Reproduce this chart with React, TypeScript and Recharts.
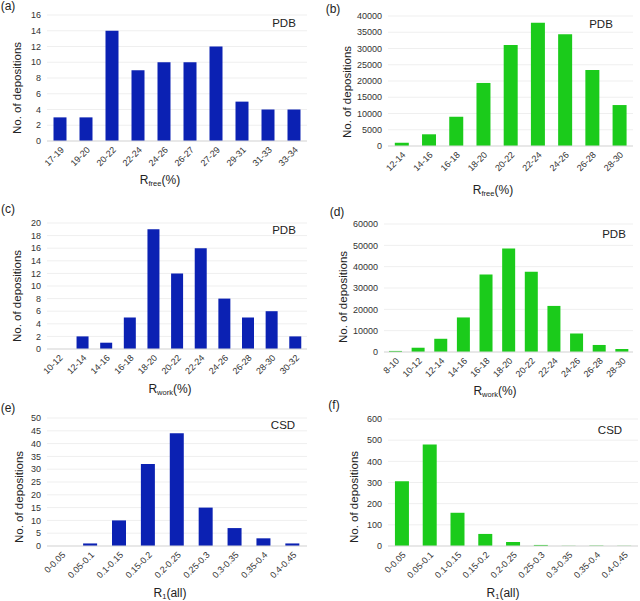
import { BarChart, Bar, XAxis, YAxis, CartesianGrid } from 'recharts';

// (a) PDB Rfree, small set
const rfreeBinsA = ['17-19', '19-20', '20-22', '22-24', '24-26', '26-27', '27-29', '29-31', '31-33', '33-34'];
const rfreeCountsA = [3, 3, 14, 9, 10, 10, 12, 5, 4, 4];
const ticksA = [0, 2, 4, 6, 8, 10, 12, 14, 16];

// (b) PDB Rfree, whole archive
const rfreeBinsB = ['12-14', '14-16', '16-18', '18-20', '20-22', '22-24', '24-26', '26-28', '28-30'];
const rfreeCountsB = [1000, 3600, 9000, 19400, 31100, 37900, 34400, 23400, 12600];
const ticksB = [0, 5000, 10000, 15000, 20000, 25000, 30000, 35000, 40000];

// (c) PDB Rwork, small set
const rworkBinsC = ['10-12', '12-14', '14-16', '16-18', '18-20', '20-22', '22-24', '24-26', '26-28', '28-30', '30-32'];
const rworkCountsC = [0, 2, 1, 5, 19, 12, 16, 8, 5, 6, 2];
const ticksC = [0, 2, 4, 6, 8, 10, 12, 14, 16, 18, 20];

// (d) PDB Rwork, whole archive
const rworkBinsD = ['8-10', '10-12', '12-14', '14-16', '16-18', '18-20', '20-22', '22-24', '24-26', '26-28', '28-30'];
const rworkCountsD = [500, 2000, 6200, 16200, 36300, 48500, 37600, 21600, 8700, 3300, 1400];
const ticksD = [0, 10000, 20000, 30000, 40000, 50000, 60000];

// (e) CSD R1, small set
const r1BinsE = ['0-0.05', '0.05-0.1', '0.1-0.15', '0.15-0.2', '0.2-0.25', '0.25-0.3', '0.3-0.35', '0.35-0.4', '0.4-0.45'];
const r1CountsE = [0, 1, 10, 32, 44, 15, 7, 3, 1];
const ticksE = [0, 5, 10, 15, 20, 25, 30, 35, 40, 45, 50];

// (f) CSD R1, whole database
const r1BinsF = ['0-0.05', '0.05-0.1', '0.1-0.15', '0.15-0.2', '0.2-0.25', '0.25-0.3', '0.3-0.35', '0.35-0.4', '0.4-0.45'];
const r1CountsF = [306, 479, 157, 57, 19, 5, 1, 2, 1];
const ticksF = [0, 100, 200, 300, 400, 500, 600];

const BLUE = '#0b21b3';
const GREEN = '#1bcb1b';
const FONT = '"Liberation Sans", Arial, sans-serif';
const TEXT = '#333333';

interface PanelProps {
  left: number;
  top: number;
  bins: string[];
  counts: number[];
  ticks: number[];
  color: string;
  margin: { top: number; right: number; bottom: number; left: number };
  yWidth: number;
  gap?: string;
}

// barCategoryGap is applied on each side of a bar, so 25% leaves a bar half the band wide
function Panel({ left, top, bins, counts, ticks, color, margin, yWidth, gap = '25%' }: PanelProps) {
  const data = bins.map((b, i) => ({ bin: b, n: counts[i] }));
  return (
    <div style={{ position: 'absolute', left, top }}>
      <BarChart width={320} height={200} data={data} margin={margin} barCategoryGap={gap}>
        <CartesianGrid vertical={false} stroke="#efefef" />
        <XAxis
          dataKey="bin"
          interval={0}
          height={40}
          tickLine={false}
          axisLine={{ stroke: '#d9d9d9' }}
          angle={-45}
          textAnchor="end"
          tick={{ fill: TEXT, fontSize: 9, fontFamily: FONT }}
          tickSize={3}
        />
        <YAxis
          domain={[0, ticks[ticks.length - 1]]}
          ticks={ticks}
          interval={0}
          width={yWidth}
          axisLine={false}
          tickLine={false}
          tickSize={4}
          tick={{ fill: TEXT, fontSize: 9, fontFamily: FONT }}
        />
        <Bar dataKey="n" fill={color} isAnimationActive={false} />
      </BarChart>
    </div>
  );
}

function Txt({ x, y, size = 12, rotate = 0, children }: { x: number; y: number; size?: number; rotate?: number; children: React.ReactNode }) {
  return (
    <div
      style={{
        position: 'absolute',
        left: x,
        top: y,
        transform: `translate(-50%, -50%) rotate(${rotate}deg)`,
        fontFamily: FONT,
        fontSize: size,
        color: '#222',
        whiteSpace: 'nowrap',
        lineHeight: 1,
      }}
    >
      {children}
    </div>
  );
}

const sub = (s: string) => <span style={{ fontSize: 7.5, position: 'relative', top: 2 }}>{s}</span>;

export default function App() {
  return (
    <div style={{ position: 'absolute', left: 0, top: 0, width: 640, height: 601, background: '#fff', overflow: 'hidden' }}>
      <Panel left={0} top={0} bins={rfreeBinsA} counts={rfreeCountsA} ticks={ticksA} color={BLUE}
        margin={{ top: 15, right: 13, bottom: 19, left: 0 }} yWidth={47} />
      <Panel left={320} top={0} bins={rfreeBinsB} counts={rfreeCountsB} ticks={ticksB} color={GREEN}
        margin={{ top: 16, right: 7, bottom: 14, left: 0 }} yWidth={68} />
      <Panel left={0} top={200} bins={rworkBinsC} counts={rworkCountsC} ticks={ticksC} color={BLUE}
        margin={{ top: 23, right: 13, bottom: 11, left: 0 }} yWidth={47} />
      <Panel left={320} top={200} bins={rworkBinsD} counts={rworkCountsD} ticks={ticksD} color={GREEN}
        margin={{ top: 24, right: 7, bottom: 8, left: 0 }} yWidth={64} gap="22%" />
      <Panel left={0} top={400} bins={r1BinsE} counts={r1CountsE} ticks={ticksE} color={BLUE}
        margin={{ top: 18, right: 13, bottom: 14, left: 0 }} yWidth={47} />
      <Panel left={320} top={400} bins={r1BinsF} counts={r1CountsF} ticks={ticksF} color={GREEN}
        margin={{ top: 19, right: 2, bottom: 14, left: 0 }} yWidth={68} />

      {/* panel letters */}
      <Txt x={8} y={6}>(a)</Txt>
      <Txt x={333} y={9}>(b)</Txt>
      <Txt x={8} y={209}>(c)</Txt>
      <Txt x={337} y={212}>(d)</Txt>
      <Txt x={8} y={408}>(e)</Txt>
      <Txt x={334} y={405}>(f)</Txt>

      {/* database tags */}
      <Txt x={284} y={24} size={11.5}>PDB</Txt>
      <Txt x={601} y={25} size={11.5}>PDB</Txt>
      <Txt x={284} y={231} size={11.5}>PDB</Txt>
      <Txt x={614} y={235} size={11.5}>PDB</Txt>
      <Txt x={283} y={426} size={11.5}>CSD</Txt>
      <Txt x={610} y={431} size={11.5}>CSD</Txt>

      {/* y titles */}
      <Txt x={18} y={88} size={11.5} rotate={-90}>No. of depositions</Txt>
      <Txt x={348} y={92} size={11.5} rotate={-90}>No. of depositions</Txt>
      <Txt x={18} y={296} size={11.5} rotate={-90}>No. of depositions</Txt>
      <Txt x={344} y={297} size={11.5} rotate={-90}>No. of depositions</Txt>
      <Txt x={20} y={497} size={11.5} rotate={-90}>No. of depositions</Txt>
      <Txt x={355} y={497} size={11.5} rotate={-90}>No. of depositions</Txt>

      {/* x titles */}
      <Txt x={160} y={180}>R{sub('free')}(%)</Txt>
      <Txt x={493} y={190}>R{sub('free')}(%)</Txt>
      <Txt x={170} y={389}>R{sub('work')}(%)</Txt>
      <Txt x={495} y={391}>R{sub('work')}(%)</Txt>
      <Txt x={170} y={593}>R{sub('1')}(all)</Txt>
      <Txt x={503} y={593}>R{sub('1')}(all)</Txt>
    </div>
  );
}
